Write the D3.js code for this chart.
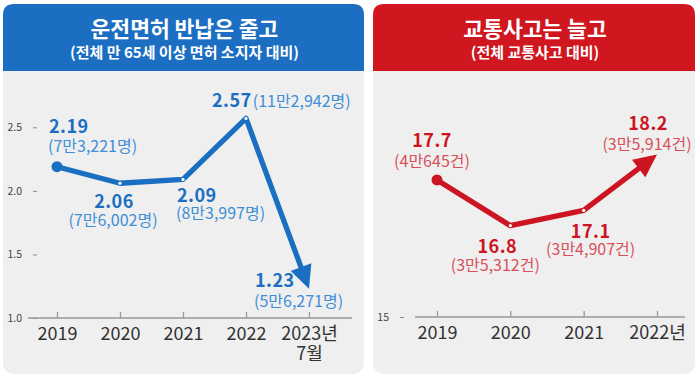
<!DOCTYPE html>
<html><head><meta charset="utf-8">
<script src="https://cdn.jsdelivr.net/npm/d3@7"></script>
<style>
html,body{margin:0;padding:0;background:#fff;}
svg{display:block;font-family:"Noto Sans CJK KR","Noto Sans",sans-serif;}
</style></head>
<body>
<svg id="c" width="697" height="380"></svg>
<script>
// ---- data ----
const licenseYears = ["2019","2020","2021","2022","2023"];
const licenseYearLabels = ["2019","2020","2021","2022","2023년"];
const licenseYearSub = ["","","","","7월"];
const licenseRate = [2.19, 2.06, 2.09, 2.57, 1.23];
const licenseCount = ["(7만3,221명)","(7만6,002명)","(8만3,997명)","(11만2,942명)","(5만6,271명)"];
const licenseTicks = [1.0, 1.5, 2.0, 2.5];

const accidentYears = ["2019","2020","2021","2022"];
const accidentYearLabels = ["2019","2020","2021","2022년"];
const accidentRate = [17.7, 16.8, 17.1, 18.2];
const accidentCount = ["(4만645건)","(3만5,312건)","(3만4,907건)","(3만5,914건)"];
const accidentTicks = [15];

const titles = [
  {main:"운전면허 반납은 줄고", sub:"(전체 만 65세 이상 면허 소지자 대비)"},
  {main:"교통사고는 늘고", sub:"(전체 교통사고 대비)"}
];

// ---- layout ----
const svg = d3.select("#c");
const panelBg = "#efefef";

function panel(x0, x1, color, t){
  const top = 4, bot = 374, hb = 71, r = 11;
  svg.append("rect").attr("x",x0).attr("y",top).attr("width",x1-x0).attr("height",bot-top)
    .attr("rx",r).attr("fill",panelBg);
  svg.append("path").attr("fill",color)
    .attr("d",`M${x0},${hb} L${x0},${top+r} Q${x0},${top} ${x0+r},${top} L${x1-r},${top} Q${x1},${top} ${x1},${top+r} L${x1},${hb} Z`);
  const cx = (x0+x1)/2 + 1;
  const tt = svg.append("text").attr("x",cx).attr("y",37).attr("text-anchor","middle")
    .attr("fill","#fff").attr("font-weight",700);
  tt.append("tspan").attr("font-size",21.5).text(t.main);
  tt.append("tspan").attr("x",cx).attr("dy",21).attr("font-size",15).text(t.sub);
}

panel(3, 364, "#1b6ec2", titles[0]);
panel(373, 695, "#d0161f", titles[1]);

function chart(cfg){
  const x = d3.scalePoint().domain(cfg.years).range(cfg.xr).padding(0);
  const y = d3.scaleLinear().domain(cfg.yd).range(cfg.yr);
  const g = svg.append("g");

  // y axis ticks
  const ya = g.append("g").attr("transform",`translate(${cfg.yAxisX},0)`)
    .call(d3.axisLeft(y).tickValues(cfg.yTicks).tickSize(4).tickPadding(cfg.yPad)
      .tickFormat(cfg.yFmt));
  ya.select(".domain").remove();
  ya.selectAll("line").attr("stroke","#888").attr("stroke-width",1);
  ya.selectAll("text").attr("font-size",10.5).attr("fill","#444")
    .attr("font-family","'Noto Sans CJK KR',sans-serif");

  // x axis
  const base = y(cfg.yd[0]);
  g.append("line").attr("x1",cfg.axisExt[0]).attr("x2",cfg.axisExt[1])
    .attr("y1",base).attr("y2",base).attr("stroke","#999").attr("stroke-width",1.5);
  const xa = g.append("g").attr("transform",`translate(0,${base})`)
    .call(d3.axisBottom(x).tickSizeInner(-6).tickSizeOuter(0)
      .tickFormat((d,i)=>cfg.xLabels[i]));
  xa.select(".domain").remove();
  xa.selectAll("line").attr("stroke","#999").attr("stroke-width",1.3);
  xa.selectAll("text").attr("y",22).attr("dy",0).attr("font-size",18)
    .attr("fill","#333").attr("font-family","'Noto Sans CJK KR',sans-serif");
  if (cfg.xSub){
    xa.selectAll(".tick text").each(function(d,i){
      if (cfg.xSub[i]) d3.select(this).append("tspan").attr("x",0).attr("dy",20).text(cfg.xSub[i]);
    });
  }

  // line with arrow
  const pts = cfg.years.map((d,i)=>[x(d), y(cfg.values[i])]);
  const n = pts.length;
  const [px,py] = pts[n-2], [tx,ty] = pts[n-1];
  const ang = Math.atan2(ty-py, tx-px);
  const L = cfg.arrowLen, W = cfg.arrowW;
  const linePts = pts.slice(0,n-1).concat([[tx - Math.cos(ang)*(L-4), ty - Math.sin(ang)*(L-4)]]);
  g.append("path").attr("d", d3.line()(linePts)).attr("fill","none")
    .attr("stroke",cfg.color).attr("stroke-width",5.3).attr("stroke-linejoin","round");
  const bx = tx - Math.cos(ang)*L, by = ty - Math.sin(ang)*L;
  const nx = -Math.sin(ang)*W, ny = Math.cos(ang)*W;
  g.append("path").attr("fill",cfg.color)
    .attr("d",`M${tx},${ty} L${bx+nx},${by+ny} L${bx-nx},${by-ny} Z`);
  g.append("circle").attr("cx",pts[0][0]).attr("cy",pts[0][1]).attr("r",5.5).attr("fill",cfg.color);
  g.selectAll(".pt").data(pts.slice(1,n-1)).join("circle")
    .attr("cx",d=>d[0]).attr("cy",d=>d[1]).attr("r",1.6).attr("fill","#fff");

  // labels: value + count as one text block
  cfg.years.forEach((d,i)=>{
    const o = cfg.lab[i];
    const lx = x(d)+o[0], ly = y(cfg.values[i])+o[1];
    const t = g.append("text").attr("x",lx).attr("y",ly).attr("text-anchor",o[2]);
    t.append("tspan").attr("font-size",18).attr("font-weight",700).attr("fill",cfg.color)
      .attr("letter-spacing",0.5).text(cfg.fmt(cfg.values[i]));
    const c = t.append("tspan").attr("font-size",16).attr("fill",cfg.color2).text(cfg.counts[i]);
    if (o[5]) c.attr("dx",o[3]);
    else c.attr("x",lx+o[3]).attr("dy",o[4]);
  });
}

chart({
  years: licenseYears, xLabels: licenseYearLabels, xSub: licenseYearSub,
  values: licenseRate, counts: licenseCount,
  xr:[57,309], yd:[1.0,2.5], yr:[318,127.3], yTicks: licenseTicks, yFmt: d3.format(".1f"),
  yAxisX: 37, yPad: 11, axisExt:[28,352],
  color:"#1a6fc2", color2:"#3f8ed6", arrowLen:23, arrowW:11, fmt: d3.format(".2f"),
  // [dx, dy, anchor, countDx, countDy, inline]
  lab:[
    [-8,-34,"start",-1,19,false],
    [-6,25,"middle",-1,18,false],
    [-6,23,"start",-1,17,false],
    [-34,-11,"start",1,0,true],
    [-54,-2,"start",-1,20,false]
  ]
});

chart({
  years: accidentYears, xLabels: accidentYearLabels, xSub: null,
  values: accidentRate, counts: accidentCount,
  xr:[437,657], yd:[15,19], yr:[317,114], yTicks: accidentTicks, yFmt: d3.format("d"),
  yAxisX: 404, yPad: 11, axisExt:[415,685],
  color:"#cc1520", color2:"#d9505a", arrowLen:23, arrowW:11, fmt: d3.format(".1f"),
  lab:[
    [-5,-33,"middle",0,20,false],
    [-13,27,"middle",-2,18,false],
    [7,28,"middle",0,17,false],
    [-9,-25,"middle",-1,20,false]
  ]
});
</script>
</body></html>
